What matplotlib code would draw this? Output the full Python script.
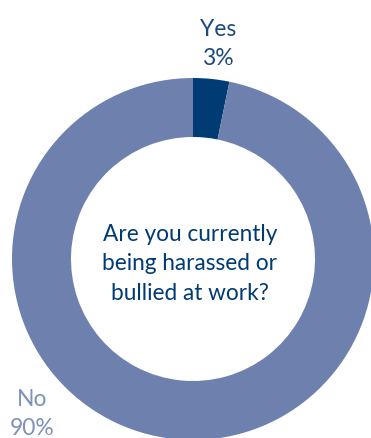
import matplotlib
matplotlib.use("Agg")
import matplotlib.pyplot as plt

# data
labels = ["Yes", "No"]
pct = [3, 90]
colors = ["#003B73", "#6E81AE"]
label_colors = ["#1C4A80", "#7F90BA"]
question = "Are you currently\nbeing harassed or\nbullied at work?"

plt.rcParams['font.family'] = ['Lato', 'DejaVu Sans']

W, H = 371, 438
fig = plt.figure(figsize=(W / 100, H / 100), dpi=100)
ax = fig.add_axes([0, 0, 1, 1])

cx, cy, R = 193, H - 259, 181
ax.pie(pct, colors=colors, startangle=90, counterclock=False,
       center=(cx, cy), radius=R,
       wedgeprops=dict(width=59, edgecolor='none', linewidth=0))

ax.set_xlim(0, W)
ax.set_ylim(0, H)
ax.set_aspect('equal')
ax.axis('off')

# slice labels (y is the baseline of the last line)
ax.text(218, H - 65, labels[0] + "\n" + str(pct[0]) + "%", ha='center', va='baseline',
        fontsize=16.5, color=label_colors[0], linespacing=1.48)
ax.text(32, H - 435, labels[1] + "\n" + str(pct[1]) + "%", ha='center', va='baseline',
        fontsize=16.5, color=label_colors[1], linespacing=1.48)

# question in the middle
ax.text(190, H - 300, question, ha='center', va='baseline',
        fontsize=16.3, color="#003B73", linespacing=1.5)

fig.savefig("out.png", dpi=100)
